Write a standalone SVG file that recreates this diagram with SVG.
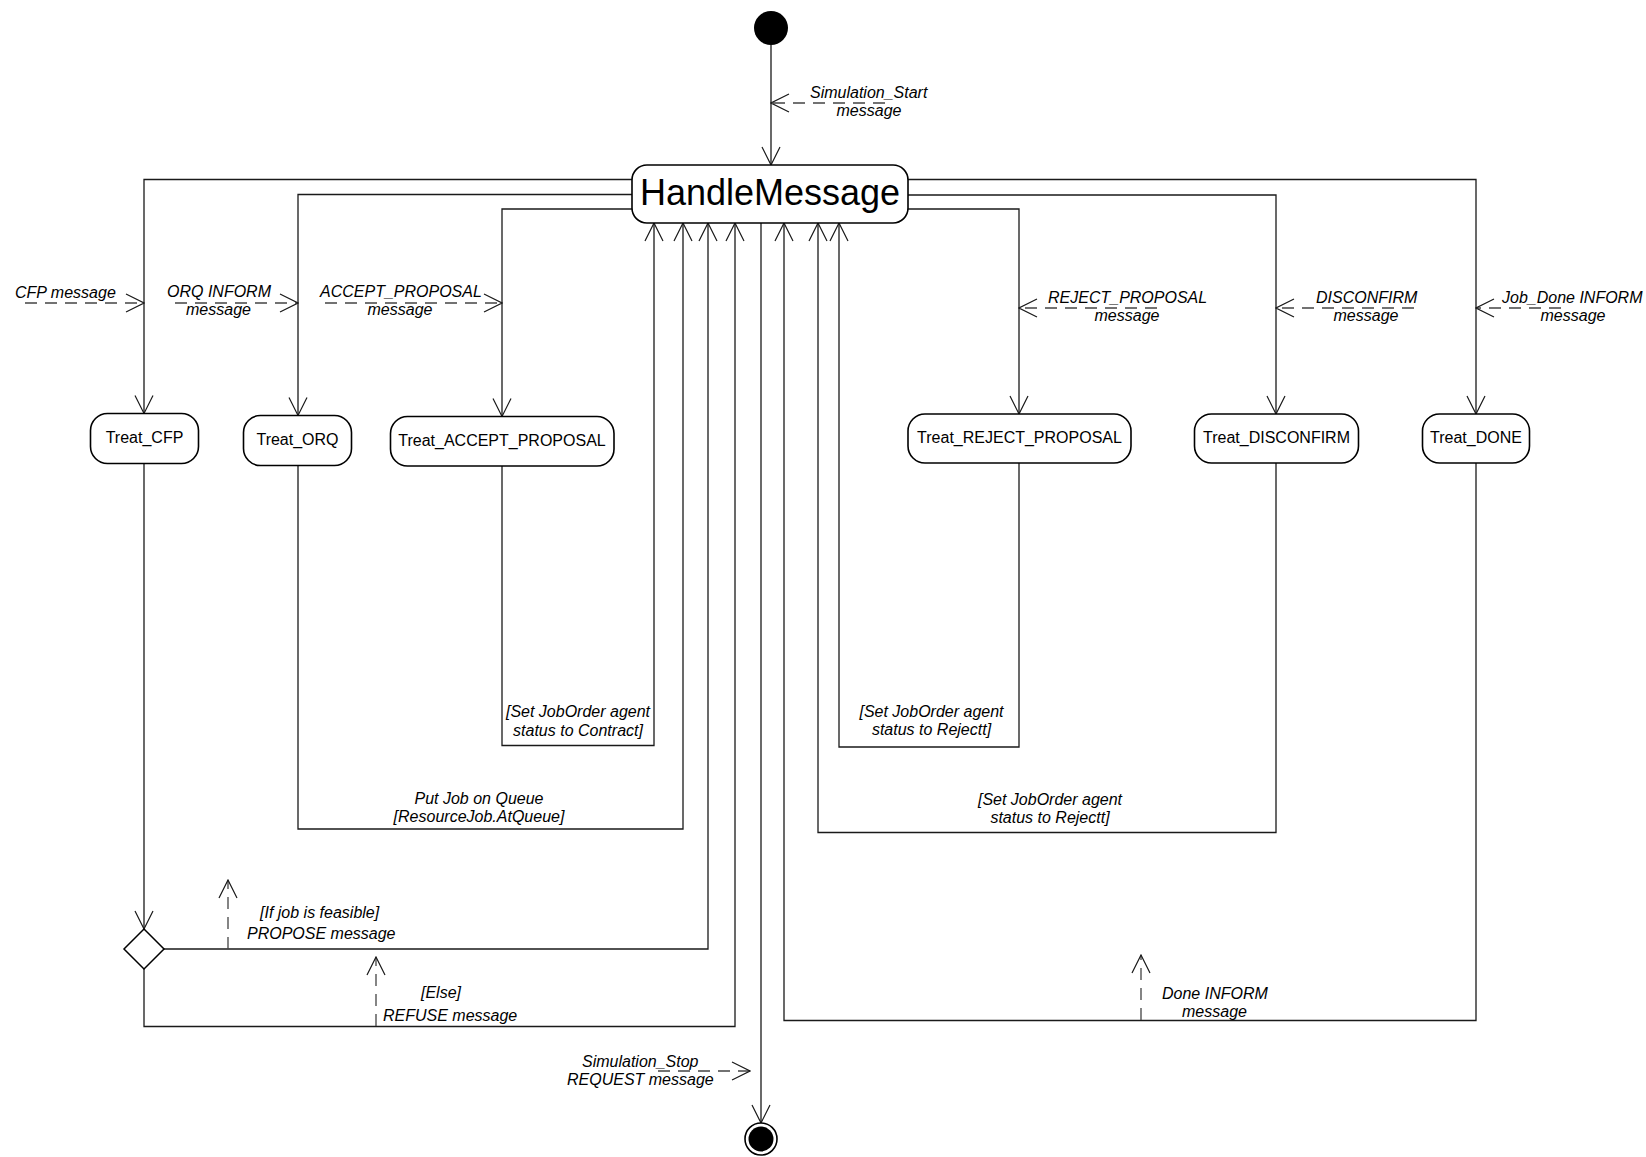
<svg xmlns="http://www.w3.org/2000/svg" width="1646" height="1157" viewBox="0 0 1646 1157">
  <defs>
    <style>
      .bg { fill: #ffffff; }
      .flow { fill: none; stroke: #1a1a1a; stroke-width: 1.3; }
      .msg { fill: none; stroke: #444444; stroke-width: 1.3; stroke-dasharray: 12 8; }
      .state { fill: #ffffff; stroke: #000000; stroke-width: 1.6; }
      .name { font-family: "Liberation Sans", Arial, sans-serif; font-size: 16px; fill: #000000; text-anchor: middle; }
      .big { font-family: "Liberation Sans", Arial, sans-serif; font-size: 36px; fill: #000000; text-anchor: middle; }
      .lbl { font-family: "Liberation Sans", Arial, sans-serif; font-size: 16px; font-style: italic; fill: #000000; }
      .mid { text-anchor: middle; }
    </style>
    <marker id="open" viewBox="0 0 20 20" refX="19" refY="10" markerWidth="20" markerHeight="20" markerUnits="userSpaceOnUse" orient="auto">
      <path d="M1,1 L19,10 L1,19" fill="none" stroke="#1a1a1a" stroke-width="1.2" stroke-dasharray="none"/>
    </marker>
  </defs>

  <rect class="bg" x="0" y="0" width="1646" height="1157"/>

  <g id="connectors">
    <!-- start into HandleMessage -->
    <line class="flow" x1="771" y1="45" x2="771" y2="165" marker-end="url(#open)"/>
    <!-- HandleMessage out to the treat states -->
    <polyline class="flow" points="632,179.5 144,179.5 144,413.5" marker-end="url(#open)"/>
    <polyline class="flow" points="632,194.5 298,194.5 298,415.5" marker-end="url(#open)"/>
    <polyline class="flow" points="632,209 502,209 502,416.5" marker-end="url(#open)"/>
    <polyline class="flow" points="908,209 1019,209 1019,414" marker-end="url(#open)"/>
    <polyline class="flow" points="906,195 1276,195 1276,414" marker-end="url(#open)"/>
    <polyline class="flow" points="908,179.5 1476,179.5 1476,414" marker-end="url(#open)"/>
    <!-- returns to HandleMessage -->
    <polyline class="flow" points="502,466 502,745.5 654,745.5 654,223" marker-end="url(#open)"/>
    <polyline class="flow" points="298,465.5 298,829 683,829 683,223" marker-end="url(#open)"/>
    <polyline class="flow" points="1019,463 1019,747 839,747 839,223" marker-end="url(#open)"/>
    <polyline class="flow" points="1276,463 1276,832.5 818,832.5 818,223" marker-end="url(#open)"/>
    <polyline class="flow" points="1476,463 1476,1020.5 784,1020.5 784,223" marker-end="url(#open)"/>
    <!-- Treat_CFP to decision -->
    <line class="flow" x1="144" y1="463.5" x2="144" y2="929" marker-end="url(#open)"/>
    <polyline class="flow" points="164,949 708,949 708,223" marker-end="url(#open)"/>
    <polyline class="flow" points="144,969 144,1026.5 735,1026.5 735,223" marker-end="url(#open)"/>
    <!-- HandleMessage to final -->
    <line class="flow" x1="761" y1="223" x2="761" y2="1123" marker-end="url(#open)"/>

    <!-- message arrows -->
    <line class="msg" x1="885" y1="103" x2="771" y2="103" marker-end="url(#open)"/>
    <line class="msg" x1="25" y1="303" x2="144" y2="303" marker-end="url(#open)"/>
    <line class="msg" x1="175" y1="303" x2="298" y2="303" marker-end="url(#open)"/>
    <line class="msg" x1="325" y1="303" x2="502" y2="303" marker-end="url(#open)"/>
    <line class="msg" x1="1157" y1="308" x2="1019" y2="308" marker-end="url(#open)"/>
    <line class="msg" x1="1414" y1="308" x2="1276" y2="308" marker-end="url(#open)"/>
    <line class="msg" x1="1561" y1="308" x2="1476" y2="308" marker-end="url(#open)"/>
    <line class="msg" x1="228" y1="949" x2="228" y2="880" marker-end="url(#open)"/>
    <line class="msg" x1="376" y1="1026" x2="376" y2="957" marker-end="url(#open)"/>
    <line class="msg" x1="1141" y1="1020" x2="1141" y2="955" marker-end="url(#open)"/>
    <line class="msg" x1="658" y1="1071" x2="750" y2="1071" marker-end="url(#open)"/>
  </g>

  <g id="initial">
    <circle cx="771" cy="28" r="17" fill="#000000"/>
  </g>

  <g id="handle-message">
    <rect class="state" x="632" y="165" width="276" height="58" rx="15"/>
    <text class="big" x="770" y="205">HandleMessage</text>
  </g>

  <g id="treat-cfp">
    <rect class="state" x="90.5" y="413.5" width="108" height="50" rx="17"/>
    <text class="name" x="144.5" y="443">Treat_CFP</text>
  </g>
  <g id="treat-orq">
    <rect class="state" x="243.5" y="415.5" width="108" height="50" rx="17"/>
    <text class="name" x="297.5" y="445">Treat_ORQ</text>
  </g>
  <g id="treat-accept-proposal">
    <rect class="state" x="390.5" y="416.5" width="223.5" height="49.5" rx="17"/>
    <text class="name" x="502" y="446">Treat_ACCEPT_PROPOSAL</text>
  </g>
  <g id="treat-reject-proposal">
    <rect class="state" x="908" y="414" width="223" height="49" rx="17"/>
    <text class="name" x="1019.5" y="443">Treat_REJECT_PROPOSAL</text>
  </g>
  <g id="treat-disconfirm">
    <rect class="state" x="1194.5" y="414" width="164" height="49" rx="17"/>
    <text class="name" x="1276.5" y="443">Treat_DISCONFIRM</text>
  </g>
  <g id="treat-done">
    <rect class="state" x="1422.5" y="414" width="107" height="49" rx="17"/>
    <text class="name" x="1476" y="443">Treat_DONE</text>
  </g>

  <g id="decision">
    <polygon points="144,929 164,949 144,969 124,949" fill="#ffffff" stroke="#000000" stroke-width="1.5"/>
  </g>

  <g id="final">
    <circle cx="761" cy="1139" r="16" fill="#ffffff" stroke="#000000" stroke-width="1.6"/>
    <circle cx="761" cy="1139" r="12.5" fill="#000000"/>
  </g>

  <g id="labels">
    <text class="lbl" x="810" y="98">Simulation_Start</text>
    <text class="lbl mid" x="869" y="116">message</text>

    <text class="lbl" x="15" y="298">CFP message</text>
    <text class="lbl" x="167" y="297">ORQ INFORM</text>
    <text class="lbl mid" x="218.5" y="315">message</text>
    <text class="lbl" x="320" y="297">ACCEPT_PROPOSAL</text>
    <text class="lbl mid" x="400" y="315">message</text>

    <text class="lbl" x="1048" y="302.5">REJECT_PROPOSAL</text>
    <text class="lbl mid" x="1127" y="321">message</text>
    <text class="lbl" x="1316" y="302.5">DISCONFIRM</text>
    <text class="lbl mid" x="1366" y="321">message</text>
    <text class="lbl" x="1502" y="302.5">Job_Done INFORM</text>
    <text class="lbl mid" x="1573" y="321">message</text>

    <text class="lbl mid" x="578" y="717">[Set JobOrder agent</text>
    <text class="lbl mid" x="578" y="736">status to Contract]</text>
    <text class="lbl mid" x="479" y="804">Put Job on Queue</text>
    <text class="lbl mid" x="479" y="822">[ResourceJob.AtQueue]</text>

    <text class="lbl mid" x="931.5" y="717">[Set JobOrder agent</text>
    <text class="lbl mid" x="931.5" y="735">status to Rejectt]</text>
    <text class="lbl mid" x="1050" y="805">[Set JobOrder agent</text>
    <text class="lbl mid" x="1050" y="823">status to Rejectt]</text>

    <text class="lbl" x="260" y="917.5">[If job is feasible]</text>
    <text class="lbl" x="247" y="938.5">PROPOSE message</text>
    <text class="lbl" x="421" y="997.5">[Else]</text>
    <text class="lbl" x="383" y="1020.5">REFUSE message</text>

    <text class="lbl" x="1162" y="999">Done INFORM</text>
    <text class="lbl" x="1182" y="1017">message</text>

    <text class="lbl" x="582" y="1067">Simulation_Stop</text>
    <text class="lbl" x="567" y="1085">REQUEST message</text>
  </g>
</svg>
